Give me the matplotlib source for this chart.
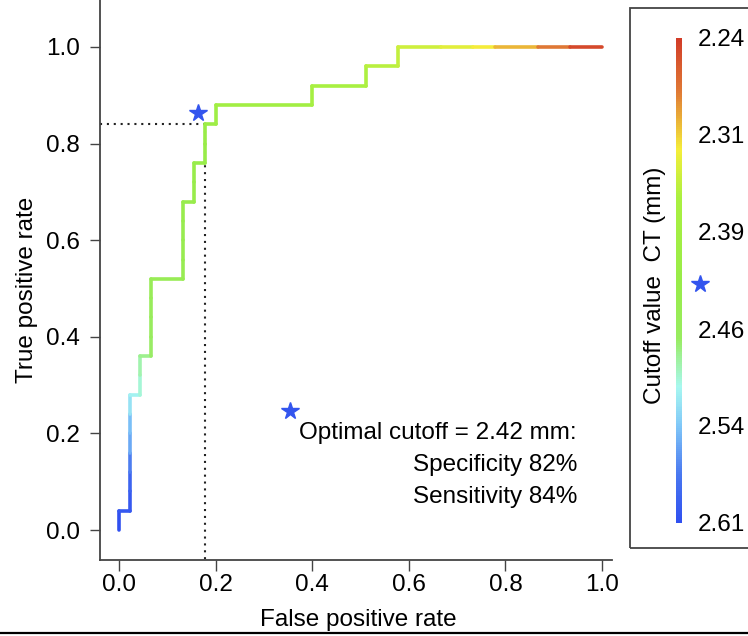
import numpy as np
import matplotlib
matplotlib.use('Agg')
import matplotlib.pyplot as plt
from matplotlib.collections import LineCollection
from matplotlib.colors import LinearSegmentedColormap, Normalize
from matplotlib.cm import ScalarMappable
from matplotlib.patches import Rectangle
from matplotlib.lines import Line2D
import matplotlib.transforms as mtransforms

plt.rcParams['font.family'] = ['Liberation Sans', 'DejaVu Sans']

# ---------------- data ----------------
n_pos = 25
n_neg = 45
fp_count = [0, 0, 1, 1, 1, 1, 1, 1, 1, 2, 2, 2, 3, 3, 3, 3, 3, 6, 6, 6, 6, 6,
            7, 7, 7, 8, 8, 8, 9, 9, 18, 18, 23, 23, 26, 26, 30, 33, 35, 39, 42, 45]
tp_count = [0, 1, 1, 2, 3, 4, 5, 6, 7, 7, 8, 9, 9, 10, 11, 12, 13, 13, 14, 15, 16, 17,
            17, 18, 19, 19, 20, 21, 21, 22, 22, 23, 23, 24, 24, 25, 25, 25, 25, 25, 25, 25]
cutoffs = [2.61, 2.61, 2.60, 2.60, 2.59, 2.57, 2.55, 2.54, 2.52, 2.51, 2.50, 2.49,
           2.48, 2.47, 2.465, 2.46, 2.455, 2.45, 2.445, 2.44, 2.44, 2.435,
           2.435, 2.43, 2.43, 2.43, 2.425, 2.42, 2.41, 2.40, 2.39, 2.38,
           2.37, 2.36, 2.355, 2.35, 2.345, 2.335, 2.325, 2.305, 2.28, 2.25]
opt_cutoff = 2.428
opt_label = "2.42"
opt_fp = 8
opt_tp = 21
cbar_min, cbar_max = 2.24, 2.61
x_ticks = [0.0, 0.2, 0.4, 0.6, 0.8, 1.0]
y_ticks = [0.0, 0.2, 0.4, 0.6, 0.8, 1.0]
palette = ['#d23c28', '#e07a35', '#f5ee3a', '#aaf040', '#98ec48',
           '#98ec60', '#a8f8f0', '#80c8f8', '#4a78f0', '#3050f0']
palette_pos = [0.0, 0.11, 0.23, 0.33, 0.5, 0.62, 0.72, 0.8, 0.9, 1.0]

# ---------------- figure ----------------
W, H = 748, 636
fig = plt.figure(figsize=(W / 100, H / 100), dpi=100)
ax = fig.add_axes([100 / W, 1 - 560 / H, 512 / W, 571 / H])

cmap = LinearSegmentedColormap.from_list('roc', list(zip(palette_pos, palette)))
norm = Normalize(vmin=cbar_min, vmax=cbar_max)

fpr = np.array(fp_count) / n_neg
tpr = np.array(tp_count) / n_pos
pts = np.column_stack([fpr, tpr])
segs = np.stack([pts[:-1], pts[1:]], axis=1)
lc = LineCollection(segs, colors=cmap(norm(np.array(cutoffs[1:]))),
                    linewidths=2.6, capstyle='round', joinstyle='round', zorder=3)
ax.add_collection(lc)

ax.set_xlim(-0.0393, 1.0207)
ax.set_ylim(-0.062, 1.12)

opt_x = opt_fp / n_neg
opt_y = opt_tp / n_pos
ax.plot([ax.get_xlim()[0], opt_x], [opt_y, opt_y], color='#222222',
        linestyle=(0, (1, 2.3)), lw=1.5, zorder=2)
ax.plot([opt_x, opt_x], [opt_y, ax.get_ylim()[0]], color='#222222',
        linestyle=(0, (1, 2.3)), lw=1.5, zorder=2)

star_col = '#3355ee'
off = mtransforms.ScaledTranslation(-7 / 100, 11 / 100, fig.dpi_scale_trans)
ax.plot([opt_x], [opt_y], marker='*', ms=13, color=star_col, mec=star_col,
        transform=ax.transData + off, zorder=4, clip_on=False)

ax.plot([0.354], [0.246], marker='*', ms=13, color=star_col, mec=star_col, zorder=4)
spec = round(100 * (1 - opt_fp / n_neg))
sens = round(100 * opt_tp / n_pos)
fs = 17.5
ax.text(0.948, 0.2008, f"Optimal cutoff = {opt_label} mm:", ha='right', va='center', fontsize=fs)
ax.text(0.948, 0.1346, f"Specificity {spec}%", ha='right', va='center', fontsize=fs)
ax.text(0.948, 0.0683, f"Sensitivity {sens}%", ha='right', va='center', fontsize=fs)

for s in ['top', 'right']:
    ax.spines[s].set_visible(False)
for s in ['left', 'bottom']:
    ax.spines[s].set_color('#444444')
    ax.spines[s].set_linewidth(1.3)
ax.set_xticks(x_ticks)
ax.set_yticks(y_ticks)
ax.set_xticklabels([f"{v:.1f}" for v in x_ticks])
ax.set_yticklabels([f"{v:.1f}" for v in y_ticks])
ax.tick_params(axis='y', length=7.5, width=1.0, color='#444444', pad=7, labelsize=fs)
ax.tick_params(axis='x', length=8, width=1.0, color='#444444', pad=2, labelsize=fs)
ax.set_xlabel("False positive rate", fontsize=fs, va='center')
ax.xaxis.set_label_coords(258 / 512, (560 - 620) / 571)
ax.set_ylabel("True positive rate", fontsize=fs, va='center')
ax.yaxis.set_label_coords((27 - 100) / 512, (560 - 290) / 571)

# ---------------- colour bar ----------------
fig.add_artist(Rectangle((630 / W, 1 - 548 / H), 0.3, 540 / H, transform=fig.transFigure,
                         fill=False, edgecolor='#444444', lw=1.3))
cax = fig.add_axes([676 / W, 1 - 523 / H, 6 / W, 485 / H])
cb = fig.colorbar(ScalarMappable(norm=norm, cmap=cmap), cax=cax)
cb.outline.set_visible(False)
cax.set_ylim(cbar_max, cbar_min)
cticks = np.linspace(cbar_min, cbar_max, 6)
cb.set_ticks(cticks)
cb.set_ticklabels([f"{t:.2f}" for t in cticks])
cax.tick_params(length=0, pad=11, labelsize=fs)
bt = mtransforms.blended_transform_factory(cax.transAxes, cax.transData)
cax.plot([4.0], [opt_cutoff], marker='*', ms=13, color=star_col, mec=star_col,
         transform=bt, clip_on=False)
fig.text(655 / W, 1 - 285 / H, "Cutoff value  CT (mm)", rotation=90,
         ha='center', va='center', fontsize=fs)

fig.add_artist(Line2D([0, 1], [1 - 633 / H, 1 - 633 / H], transform=fig.transFigure,
                      color='black', lw=1.6))

fig.savefig('out.png', dpi=100)
